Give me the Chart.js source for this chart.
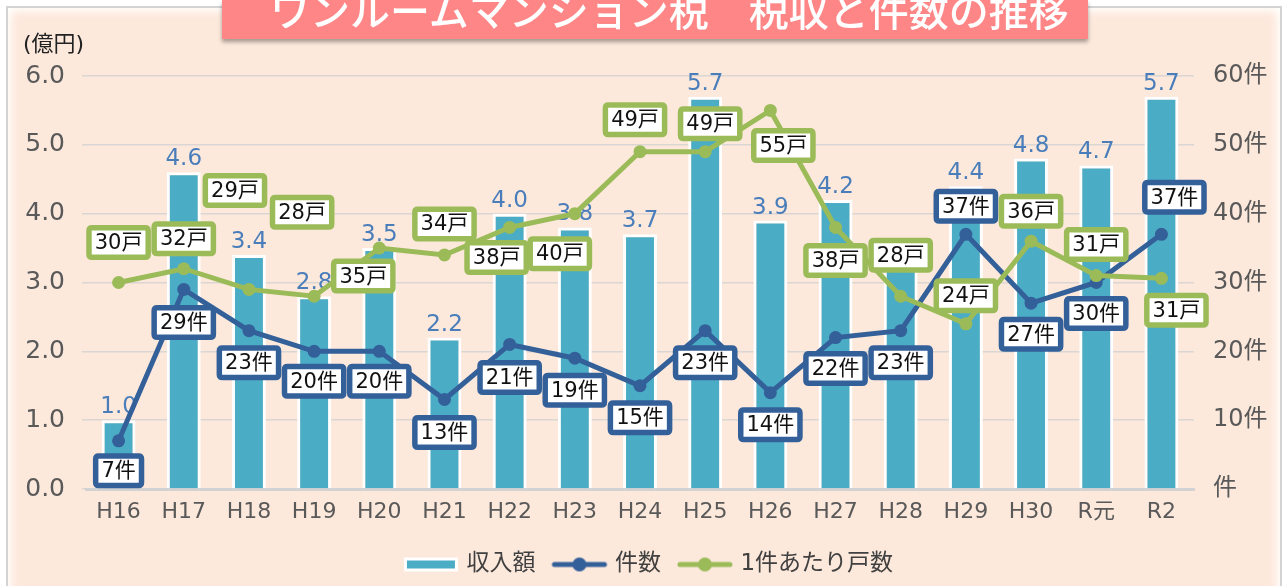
<!DOCTYPE html>
<html><head><meta charset="utf-8">
<script src="https://cdn.jsdelivr.net/npm/chart.js@4.4.0/dist/chart.umd.min.js"></script>
<style>
html,body{margin:0;padding:0;background:#fff;width:1285px;height:586px;overflow:hidden;}
#panel{position:absolute;left:6px;top:6px;width:1276px;height:620px;border:2px solid #d3d3d3;background:#fde9dc;box-shadow:inset 0 0 8px 3px #fff;box-sizing:border-box;}
#wrap{position:absolute;left:0;top:0;width:1285px;height:586px;}
#title{position:absolute;left:222px;top:0;width:866px;height:39px;background:#ff8686;box-shadow:0 3px 4px rgba(0,0,0,0.35);overflow:hidden;}
#title span{position:absolute;left:48px;top:-11px;font:500 40px/40px "Noto Sans CJK JP";color:#fff;white-space:nowrap;}
</style></head>
<body>
<div id="panel"></div>
<div id="wrap"><canvas id="c" width="1285" height="586"></canvas></div>
<div id="title"><span>ワンルームマンション税　税収と件数の推移</span></div>
<script>
const categories = ['H16','H17','H18','H19','H20','H21','H22','H23','H24','H25','H26','H27','H28','H29','H30','R元','R2'];
const revenue = [1.0,4.6,3.4,2.8,3.5,2.2,4.0,3.8,3.7,5.7,3.9,4.2,3.2,4.4,4.8,4.7,5.7];
const cases = [7,29,23,20,20,13,21,19,15,23,14,22,23,37,27,30,37];
const unitsPerCase = [30,32,29,28,35,34,38,40,49,49,55,38,28,24,36,31,30.6];
const leftTickLabels = ['0.0','1.0','2.0','3.0','4.0','5.0','6.0'];
const rightTickLabels = ['件','10件','20件','30件','40件','50件','60件'];
const seriesNames = ['収入額','件数','1件あたり戸数'];
const unitLabel = '(億円)';

// label placement (layout only): offset of label box centre from its point
const casesLabelOffset = [[0,30],[0,33],[0,32],[0,30],[0,30],[0,33],[0,33],[0,32],[0,32],[0,32],[0,32],[0,31],[0,32],[0,-28],[0,31],[0,31],[13,-37]];
const unitsLabelOffset = [[0,-40],[0,-30],[-14,-99],[-12,-84],[-16,28],[0,-31],[-13,30],[-15,40],[-5,-32],[5,-28],[13,35],[0,33],[0,-41],[0,-28],[0,-30],[0,-31],[15,32]];

const BAR = '#4bacc6', BLUE = '#34609a', GREEN = '#9bbb59';
const LATIN = '"DejaVu Sans","Noto Sans CJK JP"';

function swatch(kind, color){
  const c = document.createElement('canvas'); c.width = 58; c.height = 18;
  const g = c.getContext('2d');
  if (kind === 'bar') {
    g.fillStyle = '#fff'; g.fillRect(2,2,54,14);
    g.fillStyle = color; g.fillRect(5,5,48,8);
  } else {
    g.strokeStyle = color; g.lineWidth = 5; g.lineCap = 'round';
    g.beginPath(); g.moveTo(4,9); g.lineTo(54,9); g.stroke();
    g.fillStyle = color; g.beginPath(); g.arc(29,9,7,0,Math.PI*2); g.fill();
  }
  return c;
}
const swatches = [swatch('bar',BAR), swatch('line',BLUE), swatch('line',GREEN)];

function roundRect(ctx,x,y,w,h,r){
  ctx.beginPath();
  ctx.moveTo(x+r,y); ctx.lineTo(x+w-r,y); ctx.quadraticCurveTo(x+w,y,x+w,y+r);
  ctx.lineTo(x+w,y+h-r); ctx.quadraticCurveTo(x+w,y+h,x+w-r,y+h);
  ctx.lineTo(x+r,y+h); ctx.quadraticCurveTo(x,y+h,x,y+h-r);
  ctx.lineTo(x,y+r); ctx.quadraticCurveTo(x,y,x+r,y); ctx.closePath();
}

function drawBoxes(ctx, meta, values, offsets, color, suffix){
  ctx.font = '21px ' + LATIN;
  ctx.textAlign = 'center'; ctx.textBaseline = 'middle';
  const bw = 5.5, padX = 3, h = 35;
  meta.data.forEach((pt,i)=>{
    const txt = Math.round(values[i]) + suffix;
    const tw = ctx.measureText(txt).width;
    const w = tw + 2*padX + 2*bw;
    const cx = pt.x + offsets[i][0], cy = pt.y + offsets[i][1];
    roundRect(ctx, cx - w/2 + bw/2, cy - h/2 + bw/2, w - bw, h - bw, 3);
    ctx.fillStyle = '#fff'; ctx.fill();
    ctx.lineWidth = bw; ctx.strokeStyle = color; ctx.stroke();
    ctx.fillStyle = '#111';
    ctx.fillText(txt, cx, cy + 1);
  });
}

const labelPlugin = {
  id: 'labels',
  afterDatasetDraw(chart, args){
    if (args.index !== 0) return;
    const ctx = chart.ctx; ctx.save();
    ctx.font = '23px ' + LATIN; ctx.fillStyle = '#4a7ebb';
    ctx.textAlign = 'center'; ctx.textBaseline = 'alphabetic';
    args.meta.data.forEach((el,i)=> ctx.fillText(revenue[i].toFixed(1), el.x, el.y - 7));
    ctx.restore();
  },
  afterDatasetsDraw(chart){
    const ctx = chart.ctx; ctx.save();
    drawBoxes(ctx, chart.getDatasetMeta(1), cases, casesLabelOffset, BLUE, '件');
    drawBoxes(ctx, chart.getDatasetMeta(2), unitsPerCase, unitsLabelOffset, GREEN, '戸');
    ctx.font = '22px ' + LATIN; ctx.fillStyle = '#222';
    ctx.textAlign = 'left'; ctx.textBaseline = 'middle';
    ctx.fillText(unitLabel, 23, 45);
    ctx.restore();
  }
};

new Chart(document.getElementById('c'), {
  data: {
    labels: categories,
    datasets: [
      {type:'bar', label:seriesNames[0], data:revenue, yAxisID:'y', backgroundColor:BAR, borderColor:'#ffffff', borderWidth:3, borderSkipped:'bottom', barPercentage:0.52, categoryPercentage:1.0, order:3},
      {type:'line', label:seriesNames[1], data:cases, yAxisID:'y1', borderColor:BLUE, backgroundColor:BLUE, borderWidth:5, pointRadius:6.5, pointHoverRadius:6.5, pointBackgroundColor:BLUE, pointBorderWidth:0, tension:0, order:2},
      {type:'line', label:seriesNames[2], data:unitsPerCase, yAxisID:'y1', borderColor:GREEN, backgroundColor:GREEN, borderWidth:5, pointRadius:6.5, pointHoverRadius:6.5, pointBackgroundColor:GREEN, pointBorderWidth:0, tension:0, order:1}
    ]
  },
  options: {
    responsive:false, animation:false, devicePixelRatio:1,
    layout:{padding:{left:15, right:0, top:76, bottom:0}},
    plugins:{
      tooltip:{enabled:false},
      legend:{
        position:'bottom',
        labels:{
          usePointStyle:true, pointStyleWidth:48, padding:20,
          font:{size:23, family:LATIN}, color:'#404040',
          generateLabels(){ return seriesNames.map((t,i)=>({text:t, pointStyle:swatches[i], fillStyle:'transparent', strokeStyle:'transparent', lineWidth:0, hidden:false, datasetIndex:i, fontColor:'#404040'})); }
        }
      }
    },
    scales:{
      x:{
        grid:{display:false, drawTicks:false},
        border:{display:true, color:'#d2d2d2', width:3},
        ticks:{font:{size:22, family:LATIN}, color:'#595959', padding:10},
        afterFit(s){ s.height = 44; }
      },
      y:{
        position:'left', min:0, max:6,
        ticks:{stepSize:1, font:{size:25, family:LATIN}, color:'#595959', padding:17, callback:(v)=>leftTickLabels[Math.round(v)]},
        grid:{color:'#d9d6d3', lineWidth:1.5, drawTicks:true, tickLength:4},
        border:{display:false},
        afterFit(s){ s.width = 71; }
      },
      y1:{
        position:'right', min:0, max:60,
        ticks:{stepSize:10, font:{size:24, family:LATIN}, color:'#595959', padding:19, callback:(v)=>rightTickLabels[Math.round(v/10)]},
        grid:{display:false, drawTicks:false},
        border:{display:false},
        afterFit(s){ s.width = 91; }
      }
    }
  },
  plugins:[labelPlugin]
});
</script>
</body></html>
